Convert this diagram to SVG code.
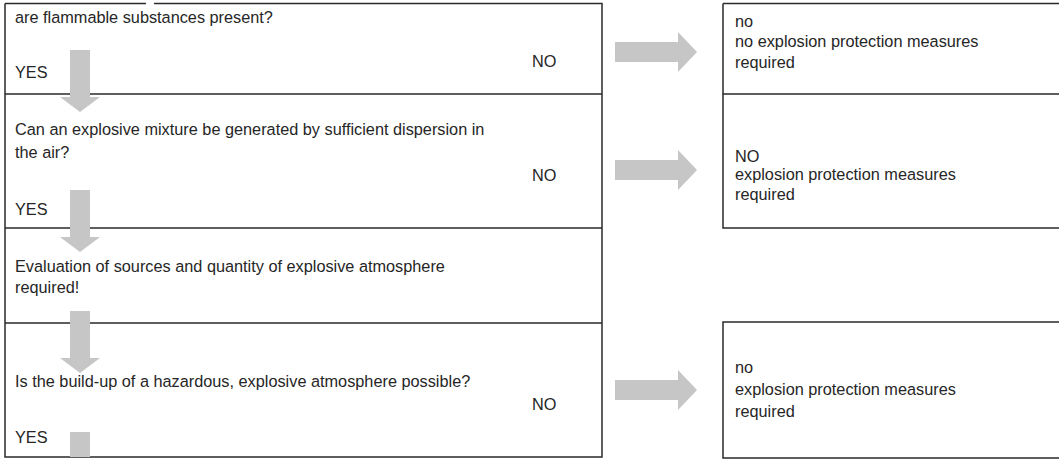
<svg xmlns="http://www.w3.org/2000/svg" width="1059" height="459" viewBox="0 0 1059 459">
<style>
.ln{stroke:#2a2a2a;stroke-width:1.5;fill:none}
.t{font-family:"Liberation Sans",Arial,sans-serif;font-size:16.3px;fill:#262626}
.ar{fill:#c6c6c6}
</style>
<defs>
<path id="down" d="M-10,0 H10 V47 H20 L0,62 L-20,47 H-10 Z"/>
<path id="right" d="M0,-10 H63 V-20 L82,0 L63,20 V10 H0 Z"/>
</defs>
<rect width="1059" height="459" fill="#fff"/>
<g id="main-table">
<path class="ln" d="M5,3.5 H146 M154,3.5 H602 V457 H5 V3.5 M5,94 H602 M5,228 H602 M5,323 H602"/>
</g>
<g id="q1">
<text class="t" x="15" y="23">are flammable substances present?</text>
<text class="t" x="15" y="78">YES</text>
<text class="t" x="532" y="67">NO</text>
</g>
<g id="q2">
<text class="t" x="15" y="135">Can an explosive mixture be generated by sufficient dispersion in</text>
<text class="t" x="15" y="158">the air?</text>
<text class="t" x="15" y="215">YES</text>
<text class="t" x="532" y="181">NO</text>
</g>
<g id="step3">
<text class="t" x="15" y="272">Evaluation of sources and quantity of explosive atmosphere</text>
<text class="t" x="15" y="293">required!</text>
</g>
<g id="q4">
<text class="t" x="15" y="387">Is the build-up of a hazardous, explosive atmosphere possible?</text>
<text class="t" x="532" y="410">NO</text>
<text class="t" x="15" y="443">YES</text>
</g>
<g id="r1">
<path class="ln" d="M723,3.5 H1059 M723,3.5 V94 H1059"/>
<text class="t" x="735" y="27">no</text>
<text class="t" x="735" y="47">no explosion protection measures</text>
<text class="t" x="735" y="68">required</text>
</g>
<g id="r2">
<path class="ln" d="M723,94 V228 H1059"/>
<text class="t" x="735" y="162">NO</text>
<text class="t" x="735" y="180">explosion protection measures</text>
<text class="t" x="735" y="200">required</text>
</g>
<g id="r3">
<path class="ln" d="M1059,322 H723 V458 H1059"/>
<text class="t" x="735" y="373">no</text>
<text class="t" x="735" y="395">explosion protection measures</text>
<text class="t" x="735" y="417">required</text>
</g>
<g id="connectors">
<use href="#down" class="ar" x="80" y="50"/>
<use href="#down" class="ar" x="80" y="190"/>
<use href="#down" class="ar" x="80" y="311"/>
<rect class="ar" x="70" y="432" width="20" height="25"/>
<use href="#right" class="ar" x="615" y="52"/>
<use href="#right" class="ar" x="615" y="170"/>
<use href="#right" class="ar" x="615" y="390"/>
</g>
</svg>
